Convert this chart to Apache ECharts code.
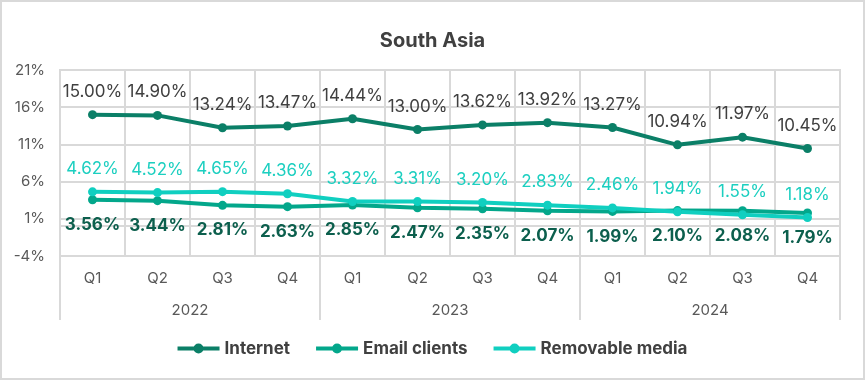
<!DOCTYPE html>
<html><head><meta charset="utf-8">
<script src="https://cdn.jsdelivr.net/npm/echarts@6/dist/echarts.min.js"></script>
<style>html,body{margin:0;padding:0;background:#fff}#c{width:865px;height:380px}</style>
</head><body><div id="c"></div>
<script>
var quarters = ['Q1','Q2','Q3','Q4','Q1','Q2','Q3','Q4','Q1','Q2','Q3','Q4'];
var years = ['2022','2023','2024'];
var internet = [15.00,14.90,13.24,13.47,14.44,13.00,13.62,13.92,13.27,10.94,11.97,10.45];
var email = [3.56,3.44,2.81,2.63,2.85,2.47,2.35,2.07,1.99,2.10,2.08,1.79];
var removable = [4.62,4.52,4.65,4.36,3.32,3.31,3.20,2.83,2.46,1.94,1.55,1.18];
var yTicks = {min:-4, max:21, interval:5};

var FONT = 'Inter';
var ICON = 'path://M0,3 L42,3 L42,7 L0,7 Z M16,5 A5,5 0 1,1 26,5 A5,5 0 1,1 16,5 Z';
var chart = echarts.init(document.getElementById('c'));
function fmt(p){ return p.value.toFixed(2) + '%'; }
function mk(name, data, color, labelColor, pos, dist){
  return {
    name: name, type: 'line', data: data, xAxisIndex: 0,
    symbol: 'circle', symbolSize: 9,
    lineStyle: {width: 4, color: color},
    itemStyle: {color: color},
    label: {show: true, position: pos, distance: dist, formatter: fmt,
      color: labelColor, fontFamily: FONT, fontSize: 17, fontWeight: pos==='bottom'?'bold':'normal'},
    z: 3
  };
}
chart.setOption({
  animation: false,
  textStyle: {fontFamily: FONT},
  title: {text: 'South Asia', left: 'center', top: 26,
    textStyle: {fontFamily: FONT, fontSize: 20, fontWeight: 'bold', color: '#404040'}},
  graphic: [{type:'rect', shape:{x:1,y:1,width:863,height:378},
    style:{fill:'none', stroke:'#d9d9d9', lineWidth:2}, silent:true}],
  grid: {left: 60, right: 25, top: 70, bottom: 124, show: true, borderColor: '#d9d9d9', borderWidth: 2},
  legend: {bottom: 18, left: 'center', itemWidth: 42, itemHeight: 10, itemGap: 26,
    textStyle: {fontFamily: FONT, fontSize: 17, fontWeight: 'bold', color: '#404040'},
    data: [{name:'Internet', icon: ICON},{name:'Email clients', icon: ICON},{name:'Removable media', icon: ICON}]},
  xAxis: [
    {type:'category', data: quarters, position:'bottom',
      axisLine:{show:true, lineStyle:{color:'#d9d9d9', width:2}},
      axisTick:{show:false},
      splitLine:{show:true, lineStyle:{color:'#d9d9d9', width:2}},
      axisLabel:{color:'#595959', fontSize:15, fontFamily:FONT, margin:15}},
    {type:'category', data: years, position:'bottom',
      axisLine:{show:false},
      axisTick:{show:true, length:64, lineStyle:{color:'#d9d9d9', width:2}},
      splitLine:{show:false},
      axisLabel:{color:'#595959', fontSize:15, fontFamily:FONT, margin:47}}
  ],
  yAxis: {type:'value', min:yTicks.min, max:yTicks.max, interval:yTicks.interval,
    axisLine:{show:false}, axisTick:{show:false},
    splitLine:{show:true, lineStyle:{color:'#d9d9d9', width:2}},
    axisLabel:{formatter:'{value}%', color:'#595959', fontSize:15, fontFamily:FONT, margin:15}},
  series: [
    mk('Internet', internet, '#0b7f67', '#404040', 'top', 10),
    mk('Email clients', email, '#03a78b', '#0c5f4d', 'bottom', 12),
    mk('Removable media', removable, '#10cfc0', '#1ccfc0', 'top', 10)
  ]
});
</script></body></html>
